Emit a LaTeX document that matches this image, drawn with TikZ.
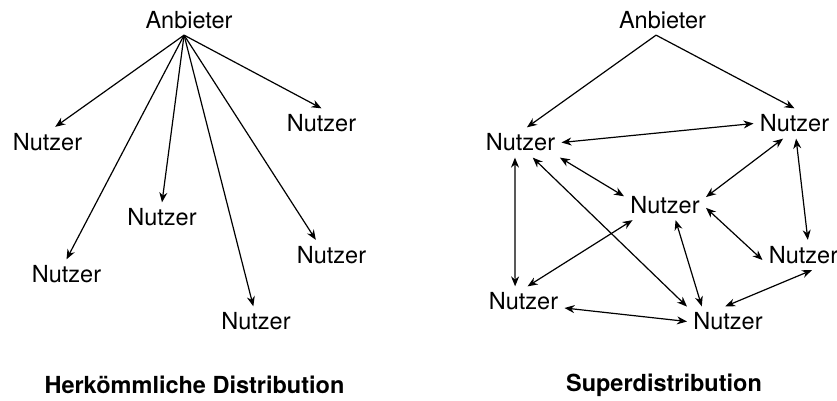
\documentclass[tikz,border=0pt]{standalone}
\usepackage{fontspec}
\setmainfont{TeX Gyre Heros}
\usetikzlibrary{arrows.meta}

\begin{document}
\begin{tikzpicture}[x=0.5pt,y=-0.5pt,>={Stealth[length=5pt,width=4pt]},
  every node/.style={font=\fontsize{11.75}{14}\selectfont,inner sep=3pt},
  titel/.style={font=\fontsize{11.75}{14}\selectfont\bfseries},
  link/.style={line width=.6pt}]
\useasboundingbox (0,0) rectangle (837,401);
% herkoemmliche Distribution
\node (la) at (189,20) {Anbieter};
\node (l1) at (47.5,142) {Nutzer};
\node (l2) at (321.5,123.5) {Nutzer};
\node (l3) at (162,217.5) {Nutzer};
\node (l4) at (66.5,274.5) {Nutzer};
\node (l5) at (256,321.5) {Nutzer};
\node (l6) at (331.5,255) {Nutzer};
\node[titel] (lt) at (194.5,385) {Herkömmliche Distribution};
\draw[->,link] (la.252) -- (l1.63);
\draw[->,link] (la.252) -- (l2.north);
\draw[->,link] (la.252) -- (l3.north);
\draw[->,link] (la.252) -- (l4.north);
\draw[->,link] (la.252) -- (l5.100);
\draw[->,link] (la.252) -- (l6.136);
% Superdistribution
\node (ra) at (662.5,20) {Anbieter};
\node (r1) at (520.5,142.5) {Nutzer};
\node (r2) at (794.5,123.5) {Nutzer};
\node (r3) at (665,205) {Nutzer};
\node (r4) at (803.5,255) {Nutzer};
\node (r5) at (523.5,301.5) {Nutzer};
\node (r6) at (728,321.5) {Nutzer};
\node[titel] (rt) at (664,385) {Superdistribution};
\draw[->,link] (ra.247) -- (r1.67);
\draw[->,link] (ra.247) -- (r2.north);
\draw[<->,link] (r1.east) -- (r2.west);
\draw[<->,link] (r1.339) -- (r3.168);
\draw[<->,link] (r1.250) -- (r5.119);
\draw[<->,link] (r1.309) -- (r6.160);
\draw[<->,link] (r2.233) -- (r3.11);
\draw[<->,link] (r2.276) -- (r4.74);
\draw[<->,link] (r3.356) -- (r4.187);
\draw[<->,link] (r3.205) -- (r5.75);
\draw[<->,link] (r3.305) -- (r6.150);
\draw[<->,link] (r4.299) -- (r6.100);
\draw[<->,link] (r5.351) -- (r6.west);
\end{tikzpicture}
\end{document}
